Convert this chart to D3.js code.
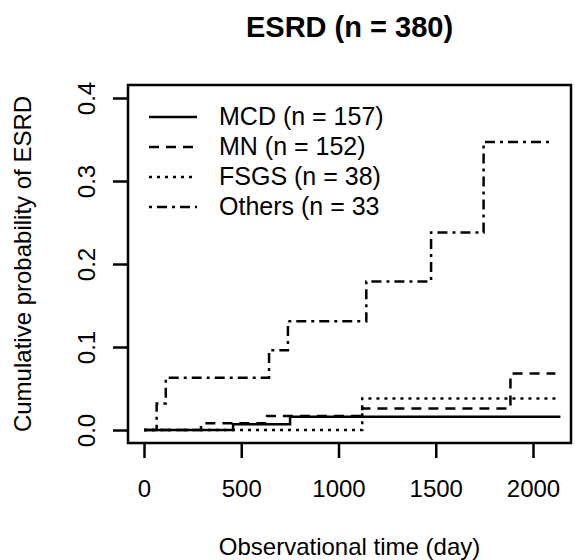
<!DOCTYPE html>
<html>
<head>
<meta charset="utf-8">
<script src="https://cdn.jsdelivr.net/npm/d3@7"></script>
<style>
  body { margin: 0; background: #fff; }
  text { font-family: "Liberation Sans", Arial, sans-serif; fill: #000; }
</style>
</head>
<body>
<div id="chart"></div>
<script>
// step curves (days, cumulative probability)
var mcdTime = [0, 458, 751, 2141];
var mcdProb = [0, 0.007, 0.016, 0.016];
var mnTime = [0, 293, 633, 1122, 1884, 2115];
var mnProb = [0, 0.008, 0.017, 0.026, 0.068, 0.068];
var fsgsTime = [0, 1122, 2124];
var fsgsProb = [0, 0.038, 0.038];
var othersTime = [0, 65, 112, 643, 740, 1143, 1476, 1746, 2105];
var othersProb = [0, 0.032, 0.063, 0.096, 0.131, 0.179, 0.238, 0.347, 0.347];

var seriesNames = ["MCD (n = 157)", "MN (n = 152)", "FSGS (n = 38)", "Others (n = 33"];
var xTicks = [0, 500, 1000, 1500, 2000];
var yTicks = [0, 0.1, 0.2, 0.3, 0.4];

var width = 575, height = 560;
var box = {left: 128, right: 571, top: 85, bottom: 443};

var svg = d3.select("#chart")
  .append("svg")
  .attr("width", width)
  .attr("height", height);

// scales
var x = d3.scaleLinear().domain([0, 2000]).range([144, 533]);
var y = d3.scaleLinear().domain([0, 0.4]).range([430, 98]);

// title
svg.append("text")
  .attr("x", (box.left + box.right) / 2)
  .attr("y", 37)
  .attr("text-anchor", "middle")
  .style("font-size", "29px")
  .style("font-weight", "bold")
  .text("ESRD (n = 380)");

// x axis
var xAxis = svg.append("g")
  .attr("transform", "translate(0," + box.bottom + ")")
  .call(d3.axisBottom(x).tickValues(xTicks).tickSize(15).tickSizeOuter(0)
    .tickPadding(22).tickFormat(d3.format("d")));
xAxis.selectAll("line").attr("stroke", "#000").attr("stroke-width", 2.5);
xAxis.select(".domain").remove();
xAxis.selectAll("text").style("font-size", "24px").attr("fill", "#000");

// y axis, labels turned like base R
var yAxis = svg.append("g")
  .attr("transform", "translate(" + box.left + ",0)")
  .call(d3.axisLeft(y).tickValues(yTicks).tickSize(15).tickSizeOuter(0).tickFormat(d3.format(".1f")));
yAxis.selectAll("line").attr("stroke", "#000").attr("stroke-width", 2.5);
yAxis.select(".domain").remove();
yAxis.selectAll("text")
  .attr("transform", "rotate(-90)")
  .attr("x", 0)
  .attr("y", -33)
  .attr("dy", 0)
  .attr("text-anchor", "middle")
  .attr("fill", "#000")
  .style("font-size", "24px");

// axis titles
svg.append("text")
  .attr("x", (box.left + box.right) / 2)
  .attr("y", 555)
  .attr("text-anchor", "middle")
  .style("font-size", "24px")
  .text("Observational time (day)");

svg.append("text")
  .attr("transform", "translate(31," + (box.top + box.bottom) / 2 + ") rotate(-90)")
  .attr("text-anchor", "middle")
  .style("font-size", "24px")
  .text("Cumulative probability of ESRD");

// curves
var dashes = [null, "10,7", "3,5", "3,5,10,5"];
var series = [
  d3.zip(mcdTime, mcdProb),
  d3.zip(mnTime, mnProb),
  d3.zip(fsgsTime, fsgsProb),
  d3.zip(othersTime, othersProb)
];

var line = d3.line()
  .curve(d3.curveStepAfter)
  .x(function(d) { return x(d[0]); })
  .y(function(d) { return y(d[1]); });

svg.selectAll(".km")
  .data(series)
  .enter()
  .append("path")
  .attr("class", "km")
  .attr("d", line)
  .attr("fill", "none")
  .attr("stroke", "#000")
  .attr("stroke-width", 2.5)
  .attr("stroke-dasharray", function(d, i) { return dashes[i]; });

// plot frame
svg.append("rect")
  .attr("x", box.left)
  .attr("y", box.top)
  .attr("width", box.right - box.left)
  .attr("height", box.bottom - box.top)
  .attr("fill", "none")
  .attr("stroke", "#000")
  .attr("stroke-width", 2.5);

// legend (no frame)
var legend = svg.append("g");
seriesNames.forEach(function(name, i) {
  var ly = 117 + i * 30;
  legend.append("line")
    .attr("x1", 149).attr("x2", 197)
    .attr("y1", ly).attr("y2", ly)
    .attr("stroke", "#000")
    .attr("stroke-width", 2.5)
    .attr("stroke-dasharray", dashes[i]);
  legend.append("text")
    .attr("x", 219)
    .attr("y", ly + 8)
    .style("font-size", "25px")
    .text(name);
});
</script>
</body>
</html>
